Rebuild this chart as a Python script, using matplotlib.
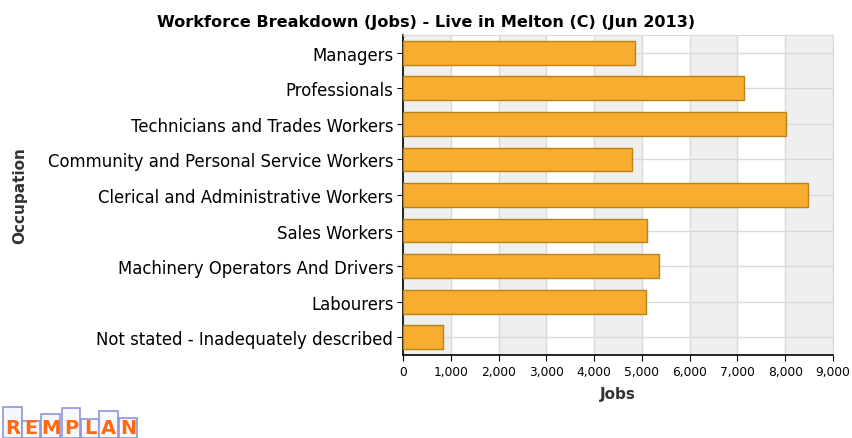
import matplotlib.pyplot as plt
from matplotlib.patches import Rectangle

# data
occupations = [
    "Managers",
    "Professionals",
    "Technicians and Trades Workers",
    "Community and Personal Service Workers",
    "Clerical and Administrative Workers",
    "Sales Workers",
    "Machinery Operators And Drivers",
    "Labourers",
    "Not stated - Inadequately described",
]
jobs = [4860, 7140, 8010, 4790, 8480, 5110, 5350, 5080, 840]
xticks = list(range(0, 10000, 1000))

W, H = 852, 439
fig = plt.figure(figsize=(W / 100, H / 100), dpi=100)
ax = fig.add_axes([403 / W, 1 - 356 / H, 430 / W, 320 / H])

# alternating grey bands
for i in range(0, 9000, 2000):
    ax.axvspan(i, i + 1000, color="#efefef", zorder=0, lw=0)

ypos = list(range(len(occupations)))
ax.barh(ypos, jobs, height=0.67, color="#f8ad30", edgecolor="#b98318",
        linewidth=1.0, zorder=3)

ax.set_xlim(0, 9000)
ax.set_ylim(len(occupations) - 0.5, -0.5)
ax.set_xticks(xticks)
ax.set_xticklabels([f"{v:,}" for v in xticks], fontsize=8.8)
ax.set_yticks(ypos)
ax.set_yticklabels(occupations, fontsize=11.9)
ax.grid(True, color="#d9d9d9", lw=1, zorder=1)
ax.set_axisbelow(True)

for s in ["top", "right"]:
    ax.spines[s].set_color("#d9d9d9")
for s in ["left", "bottom"]:
    ax.spines[s].set_color("black")
    ax.spines[s].set_linewidth(1.2)
ax.tick_params(axis="both", length=4, color="black", pad=3)

ax.set_xlabel("Jobs", fontsize=11, fontweight="bold", color="#333333", labelpad=6)
fig.text(20 / W, 1 - 196 / H, "Occupation", rotation=90, ha="center", va="center",
         fontsize=11, fontweight="bold", color="#333333")
fig.text(0.5, 1 - 22 / H, "Workforce Breakdown (Jobs) - Live in Melton (C) (Jun 2013)",
         ha="center", va="center", fontsize=11.6, fontweight="bold")

# REMPLAN logo: one letter per little bar
logo_bars = [(3, 22, 408), (22, 40, 422), (41, 60, 415), (62, 80, 409),
             (81, 99, 420), (99, 118, 412), (119, 137, 419)]
for (x0, x1, top), letter in zip(logo_bars, "REMPLAN"):
    fig.patches.append(Rectangle((x0 / W, 0), (x1 - x0) / W, (H - top) / H,
                                 transform=fig.transFigure, facecolor="#f7f8ff",
                                 edgecolor="#8f95d8", lw=1.2))
    fig.text((x0 + x1) / 2 / W, 1 / H, letter, ha="center", va="bottom",
             fontsize=14, fontweight="bold", color="#ff6a10")

fig.savefig("out.png", dpi=100)
